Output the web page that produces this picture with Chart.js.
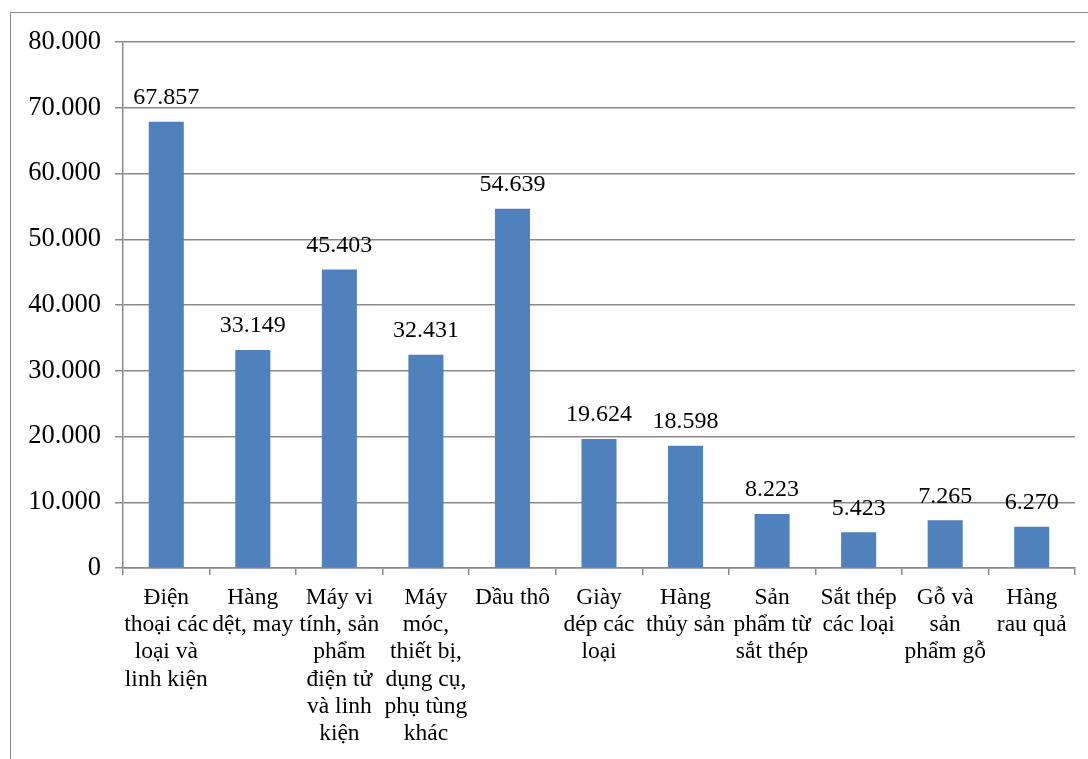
<!DOCTYPE html>
<html>
<head>
<meta charset="utf-8">
<script src="https://cdn.jsdelivr.net/npm/chart.js@4/dist/chart.umd.min.js"></script>
<style>
html,body{margin:0;padding:0;background:#fff;overflow:hidden;}
#wrap{position:absolute;left:0;top:0;width:1088px;height:759px;}
#frame{position:absolute;left:10px;top:12px;width:1200px;height:900px;border:1.5px solid #8a8a8a;box-sizing:border-box;}
canvas{position:absolute;left:0;top:0;}
</style>
</head>
<body>
<div id="wrap">
<div id="frame"></div>
<canvas id="c" width="1088" height="759"></canvas>
</div>
<script>
const categories = [
  ["Điện","thoại các","loại và","linh kiện"],
  ["Hàng","dệt, may"],
  ["Máy vi","tính, sản","phẩm","điện tử","và linh","kiện"],
  ["Máy","móc,","thiết bị,","dụng cụ,","phụ tùng","khác"],
  ["Dầu thô"],
  ["Giày","dép các","loại"],
  ["Hàng","thủy sản"],
  ["Sản","phẩm từ","sắt thép"],
  ["Sắt thép","các loại"],
  ["Gỗ và","sản","phẩm gỗ"],
  ["Hàng","rau quả"]
];
const values = [67857, 33149, 45403, 32431, 54639, 19624, 18598, 8223, 5423, 7265, 6270];
const yTicks = [0, 10000, 20000, 30000, 40000, 50000, 60000, 70000, 80000];

function fmt(v){
  if (v === 0) return "0";
  return v.toString().replace(/\B(?=(\d{3})+(?!\d))/g, ".");
}

const SERIF = "'Liberation Serif','Times New Roman',serif";

const labelPlugin = {
  id: 'barLabels',
  afterDatasetsDraw(chart){
    const ctx = chart.ctx;
    const meta = chart.getDatasetMeta(0);
    ctx.save();
    ctx.font = "24px " + SERIF;
    ctx.fillStyle = "#000";
    ctx.textAlign = "center";
    ctx.textBaseline = "middle";
    meta.data.forEach((bar, i) => {
      ctx.fillText(fmt(values[i]), bar.x, bar.y - 24);
    });
    ctx.restore();
  }
};

new Chart(document.getElementById('c'), {
  type: 'bar',
  data: {
    labels: categories,
    datasets: [{
      data: values,
      backgroundColor: '#4F81BD',
      borderWidth: 0,
      categoryPercentage: 1,
      barPercentage: 0.405
    }]
  },
  options: {
    responsive: false,
    animation: false,
    devicePixelRatio: 1,
    layout: { padding: { top: 42, right: 13, left: 0, bottom: 0 } },
    plugins: { legend: { display: false }, tooltip: { enabled: false } },
    scales: {
      y: {
        min: 0, max: 80000,
        afterFit(scale){ scale.width = 123; },
        afterBuildTicks(scale){ scale.ticks = yTicks.map(v => ({value: v})); },
        grid: { color: '#8a8a8a', lineWidth: 1.5, tickLength: 8, drawTicks: true },
        border: { display: true, color: '#8a8a8a', width: 1.5 },
        ticks: {
          font: { family: SERIF, size: 26.5 },
          color: '#000',
          padding: 14,
          callback: v => fmt(v)
        }
      },
      x: {
        afterFit(scale){ scale.height = 191; },
        offset: true,
        grid: { offset: true, drawOnChartArea: false, drawTicks: true, tickLength: 7, color: '#8a8a8a', lineWidth: 1.5 },
        border: { display: true, color: '#8a8a8a', width: 1.5 },
        ticks: {
          font: { family: SERIF, size: 23.5, lineHeight: 1.16 },
          color: '#000',
          padding: 9,
          maxRotation: 0,
          minRotation: 0,
          autoSkip: false
        }
      }
    }
  },
  plugins: [labelPlugin]
});
</script>
</body>
</html>
